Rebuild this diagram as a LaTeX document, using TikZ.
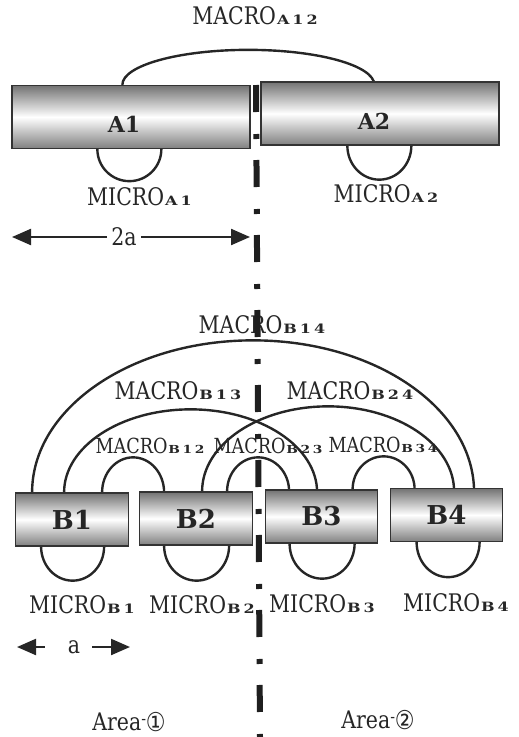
\documentclass[tikz,border=0pt]{standalone}
\usepackage{fontspec}
\usepackage{graphicx}
\usetikzlibrary{calc,arrows.meta}
\setmainfont{DejaVu Serif}
\newfontfamily\circfont{DejaVu Sans}
\makeatletter
\newcommand\letterspaced[1]{\@tfor\lsch:=#1\do{\lsch\kern3pt}\unkern}
\makeatother
% wide, flat bold subscript such as A12, B14
\newcommand\subscr[1]{\kern1pt\scalebox{1}[0.68]{\fontsize{16}{16}\selectfont\bfseries\letterspaced{#1}}}
\newcommand\areatag[1]{Area\raisebox{5pt}{\fontsize{14}{14}\selectfont -}\raisebox{-1pt}{\circfont\fontsize{22}{22}\selectfont #1}}
\definecolor{ink}{HTML}{262626}
\definecolor{edge}{HTML}{333333}
\pgfdeclarelayer{behind}
\pgfsetlayers{behind,main}

\begin{document}
\begin{tikzpicture}[x=1pt,y=1pt,
  lbl/.style={font=\fontsize{20.5}{24}\selectfont, text=ink, inner sep=0pt, anchor=base, yscale=1.18},
  lblsmall/.style={lbl, scale=0.86},
  cell/.style={draw=edge, line width=1.3pt, top color=black!55, bottom color=black!50, middle color=white, inner sep=0pt, text=ink},
  longcell/.style={cell, minimum width=238pt, minimum height=63pt},
  shortcell/.style={cell, minimum width=112.5pt, minimum height=53pt, font=\fontsize{26}{26}\selectfont\bfseries},
  celltext/.style={font=\fontsize{22}{22}\selectfont\bfseries, text=ink, inner sep=0pt},
  link/.style={draw=ink, line width=2.4pt},
  dim/.style={draw=ink, line width=2.2pt, -{Triangle[length=19pt,width=16pt]}},
  dimtext/.style={font=\fontsize{20.5}{24}\selectfont, text=ink, inner ysep=0pt, yscale=1.18},
  divider/.style={draw=black!88, line width=6pt, dash pattern=on 27pt off 22pt on 5pt off 21pt}
]
\useasboundingbox (0,0) rectangle (519,-737);

% ---- two long cells ----
\node[longcell] (A1) at (131,-117) {};
\node[longcell] (A2) at (380,-113.5) {};
\node[celltext] (A1t) at ($(A1.center)+(-7,-7)$) {A1};
\node[celltext] (A2t) at ($(A2.center)+(-6,-8)$) {A2};

% ---- four short cells ----
\node[shortcell] (B1) at (72,-519.5) {B1};
\node[shortcell] (B2) at (196,-518.5) {B2};
\node[shortcell] (B3) at (321.5,-516.5) {B3};
\node[shortcell] (B4) at (446.5,-515) {B4};

% ---- couplings (drawn behind the cells) ----
\begin{pgfonlayer}{behind}
  % macro couplings above
  \draw[link] ($(A1.north west)+(111,0)$) arc[start angle=180,end angle=0,x radius=126pt,y radius=35pt];
  \draw[link] ($(B1.north west)+(17,0)$) arc[start angle=180,end angle=0,x radius=221pt,y radius=152pt];
  \draw[link] ($(B1.north west)+(49,0)$) arc[start angle=180,end angle=0,x radius=126.5pt,y radius=83pt];
  \draw[link] ($(B2.north west)+(63,0)$) arc[start angle=180,end angle=0,x radius=126pt,y radius=85pt];
  \draw[link] ($(B1.north west)+(87,0)$) arc[start angle=180,end angle=0,x radius=31pt,y radius=35pt];
  \draw[link] ($(B2.north west)+(88,0)$) arc[start angle=180,end angle=0,x radius=31pt,y radius=34pt];
  \draw[link] ($(B3.north west)+(88,0)$) arc[start angle=180,end angle=0,x radius=31pt,y radius=33pt];
  % micro couplings below
  \draw[link] ($(A1.south west)+(86,0)$) arc[start angle=180,end angle=360,x radius=32pt,y radius=32pt];
  \draw[link] ($(A2.south west)+(87,0)$) arc[start angle=180,end angle=360,x radius=32pt,y radius=34pt];
  \draw[link] ($(B1.south west)+(26,0)$) arc[start angle=180,end angle=360,x radius=31.5pt,y radius=34pt];
  \draw[link] ($(B2.south west)+(25,0)$) arc[start angle=180,end angle=360,x radius=32.5pt,y radius=35pt];
  \draw[link] ($(B3.south west)+(25,0)$) arc[start angle=180,end angle=360,x radius=32.5pt,y radius=35pt];
  \draw[link] ($(B4.south west)+(27,0)$) arc[start angle=180,end angle=360,x radius=31.5pt,y radius=35pt];
\end{pgfonlayer}

% ---- coupling labels ----
\node[lbl] (mA12) at (255,-24) {MACRO\subscr{A12}};
\node[lbl] (uA1) at (139.5,-205) {MICRO\subscr{A1}};
\node[lbl] (uA2) at (386,-202) {MICRO\subscr{A2}};
\node[lbl] (mB14) at (262,-333) {MACRO\subscr{B14}};
\node[lbl] (mB13) at (178,-399) {MACRO\subscr{B13}};
\node[lbl] (mB24) at (350,-399) {MACRO\subscr{B24}};
\node[lblsmall] (mB12) at (150,-453) {MACRO\subscr{B12}};
\node[lblsmall] (mB23) at (268,-453) {MACRO\subscr{B23}};
\node[lblsmall] (mB34) at (383,-452) {MACRO\subscr{B34}};
\node[lbl] (uB1) at (82,-613) {MICRO\subscr{B1}};
\node[lbl] (uB2) at (202,-613) {MICRO\subscr{B2}};
\node[lbl] (uB3) at (322,-612) {MICRO\subscr{B3}};
\node[lbl] (uB4) at (456,-611) {MICRO\subscr{B4}};

% ---- dimension arrows ----
\coordinate (wL) at (12,-237);
\coordinate (wR) at (250,-237);
\node[dimtext, inner xsep=4pt] (w2a) at (124,-237) {2a};
\draw[dim] (w2a.west) -- (w2a.west -| wL);
\draw[dim] (w2a.east) -- (w2a.east -| wR);

\coordinate (sL) at (17,-647);
\coordinate (sR) at (130,-647);
\node[dimtext, inner xsep=12pt] (w1a) at (74,-647) {a};
\draw[dim] ([xshift=-11pt]w1a.west) -- (w1a.west -| sL);
\draw[dim] (w1a.east) -- (w1a.east -| sR);

% ---- areas ----
\node[lbl] (ar1) at (129,-730) {\areatag{①}};
\node[lbl] (ar2) at (378,-728) {\areatag{②}};

% ---- boundary between the two areas ----
\draw[divider] (256,-85) -- (260,-737);
\end{tikzpicture}
\end{document}
